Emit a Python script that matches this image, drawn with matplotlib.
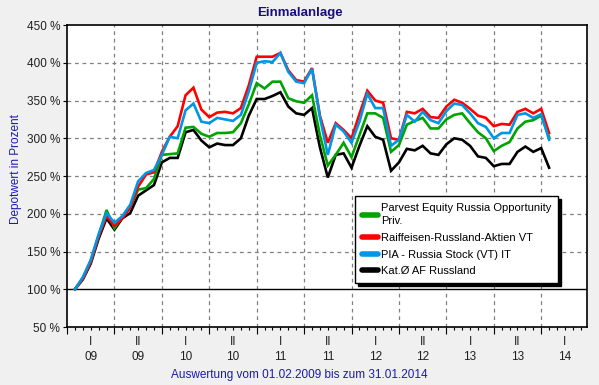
import matplotlib.pyplot as plt
import numpy as np

plt.rcParams['font.family'] = ['Liberation Sans', 'DejaVu Sans']

# Monate seit Januar 2009 (1 = Feb 2009 ... 61 = Feb 2014)
months = list(range(1, 62))

parvest = [100, 115, 137, 171, 205, 181, 196, 209, 232, 234, 246, 278, 279, 280,
           314, 315, 306, 302, 307, 307, 308, 320, 345, 373, 366, 375, 375, 353,
           349, 347, 357, 304, 264, 278, 294, 275, 304, 333, 333, 327, 282, 291,
           318, 323, 327, 313, 313, 325, 331, 333, 320, 308, 300, 283, 290, 295,
           313, 322, 324, 330, 302]

raiffeisen = [100, 114, 136, 170, 197, 184, 194, 208, 236, 252, 255, 282, 302, 316,
              357, 367, 338, 328, 334, 335, 333, 340, 370, 408, 408, 408, 413, 390,
              377, 375, 393, 330, 294, 320, 311, 300, 332, 363, 350, 347, 300, 298,
              335, 333, 339, 328, 327, 342, 351, 347, 339, 330, 327, 316, 319, 318,
              335, 339, 333, 339, 307]

pia = [100, 116, 139, 173, 201, 188, 197, 212, 243, 254, 258, 278, 302, 300,
       337, 346, 322, 320, 327, 325, 323, 331, 362, 400, 402, 401, 413, 388,
       375, 373, 392, 328, 278, 318, 309, 294, 322, 359, 340, 340, 290, 298,
       331, 322, 335, 324, 320, 336, 346, 344, 333, 320, 315, 300, 307, 307,
       331, 333, 327, 332, 298]

kat = [100, 113, 134, 167, 194, 179, 194, 201, 224, 231, 238, 268, 274, 274,
       308, 311, 297, 288, 293, 291, 291, 300, 330, 352, 352, 356, 361, 342,
       333, 331, 340, 288, 248, 278, 280, 261, 290, 316, 302, 298, 257, 268,
       286, 284, 290, 280, 278, 292, 300, 298, 290, 276, 274, 263, 266, 266,
       282, 289, 282, 287, 261]

series_names = ["Parvest Equity Russia Opportunity\nPriv.",
                "Raiffeisen-Russland-Aktien VT",
                "PIA - Russia Stock (VT) IT",
                "Kat.Ø AF Russland"]
series_colors = ["#00A400", "#FF0000", "#0096E6", "#000000"]

half_labels = ["I\n09", "II\n09", "I\n10", "II\n10", "I\n11", "II\n11",
               "I\n12", "II\n12", "I\n13", "II\n13", "I\n14"]
y_ticks = [50, 100, 150, 200, 250, 300, 350, 400, 450]

fig = plt.figure(figsize=(5.99, 3.85), dpi=100, facecolor="#F0F0F0")
ax = fig.add_axes([0.1119, 0.1506, 0.8681, 0.7844])
ax.set_facecolor("white")

# Gitter
for x in range(6, 66, 6):
    ax.axvline(x, color="#808080", linestyle=(0, (3, 3)), linewidth=0.9, zorder=1)
for y in y_ticks[1:-1]:
    if y != 100:
        ax.axhline(y, color="#808080", linestyle=(0, (3, 3)), linewidth=0.9, zorder=1)
ax.axhline(100, color="black", linewidth=1.0, zorder=1)

# Reihenfolge wie im Original: schwarz unten, gruen, rot, blau
for data, col in [(kat, series_colors[3]), (parvest, series_colors[0]),
                  (raiffeisen, series_colors[1]), (pia, series_colors[2])]:
    ax.plot(months, data, color=col, linewidth=1.9, zorder=3,
            solid_joinstyle="miter")

ax.set_xlim(0, 65.8)
ax.set_ylim(50, 450)

ax.set_yticks(y_ticks)
ax.set_yticklabels([f"{v} %" for v in y_ticks], fontsize=8.5, color="#202020")
ax.tick_params(axis="y", direction="out", length=3, width=0.8, pad=2)

ax.set_xticks(range(0, 66, 6))
ax.set_xticklabels([])
ax.set_xticks(range(0, 66), minor=True)
ax.tick_params(axis="x", which="major", direction="out", length=5, width=0.8)
ax.tick_params(axis="x", which="minor", direction="out", length=2.5, width=0.8)

for i, lab in enumerate(half_labels):
    ax.text(3 + 6 * i, -0.03, lab, transform=ax.get_xaxis_transform(),
            ha="center", va="top", fontsize=8.5, color="#202020",
            linespacing=1.3)

for sp in ax.spines.values():
    sp.set_color("black")
    sp.set_linewidth(1.2)

fig.text(0.5, 0.965, "Einmalanlage", ha="center", va="center",
         fontsize=9.5, fontweight="bold", color="#1A0D80")
fig.text(0.027, 0.56, "Depotwert in Prozent", ha="center", va="center",
         rotation=90, fontsize=8.5, color="#1A1AB0")
fig.text(0.5, 0.026, "Auswertung vom 01.02.2009 bis zum 31.01.2014",
         ha="center", va="center", fontsize=8.5, color="#1A1AB0")

handles = [plt.Line2D([], [], color=c, linewidth=4, solid_capstyle="round")
           for c in series_colors]
leg = ax.legend(handles, series_names, loc="upper left",
                bbox_to_anchor=(0.554, 0.434), fontsize=8,
                frameon=True, fancybox=False, shadow={"color": "black", "alpha": 1},
                edgecolor="black", framealpha=1, handlelength=1.5,
                handletextpad=0.25, borderpad=0.6, labelspacing=0.6,
                borderaxespad=0)
for t in leg.get_texts():
    t.set_linespacing(1.45)
leg.get_frame().set_linewidth(1.0)
leg.set_zorder(5)

fig.savefig("out.png", dpi=100, facecolor=fig.get_facecolor())
